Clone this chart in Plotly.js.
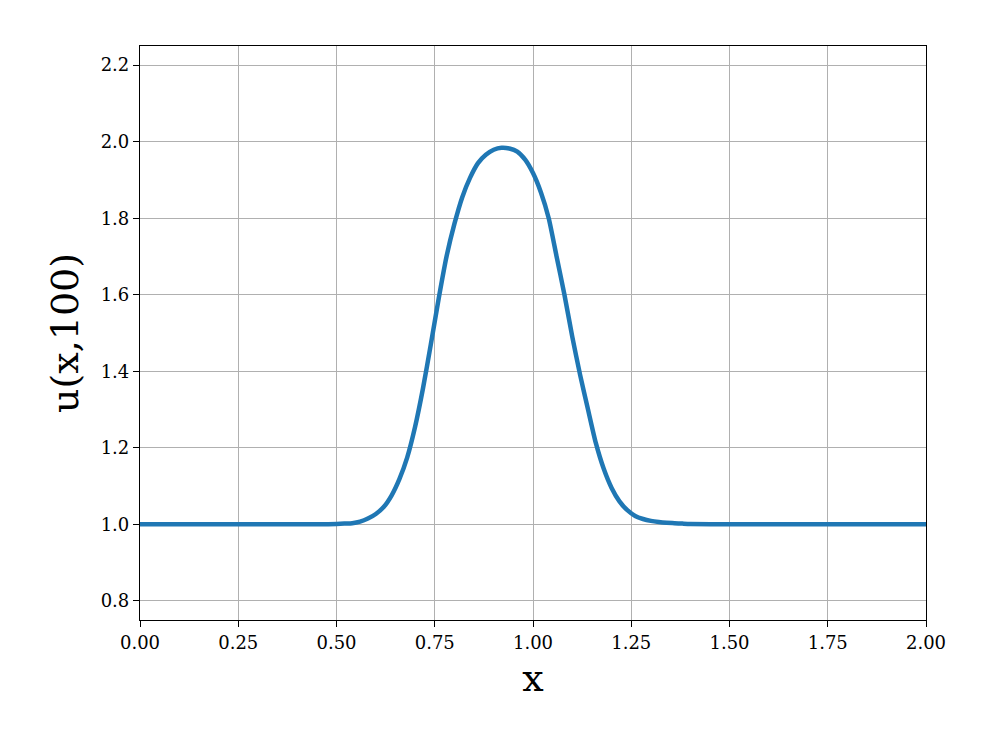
<!DOCTYPE html>
<html>
<head>
<meta charset="utf-8">
<script src="https://cdn.plot.ly/plotly-3.0.1.min.js"></script>
<style>body{margin:0;background:#fff}#chart{width:996px;height:747px}</style>
</head>
<body>
<div id="chart"></div>
<script>
// values
const xs = [0, 0.1, 0.2, 0.3, 0.4, 0.46, 0.50, 0.52, 0.54, 0.56, 0.58, 0.60, 0.62, 0.64, 0.66, 0.68,
  0.70, 0.72, 0.74, 0.76, 0.78, 0.80, 0.82, 0.84, 0.86, 0.88, 0.90, 0.92, 0.94, 0.96, 0.98,
  1.00, 1.02, 1.04, 1.06, 1.08, 1.10, 1.12, 1.14, 1.16, 1.18, 1.20, 1.22, 1.24, 1.26, 1.28,
  1.30, 1.32, 1.34, 1.36, 1.38, 1.40, 1.5, 1.6, 1.7, 1.8, 1.9, 2.0];
const u100 = [1.0, 1.0, 1.0, 1.0, 1.0, 1.0, 1.001, 1.002, 1.003, 1.007, 1.015, 1.027, 1.045, 1.075, 1.118, 1.175,
  1.255, 1.355, 1.47, 1.59, 1.70, 1.785, 1.855, 1.906, 1.944, 1.966, 1.979, 1.984, 1.982, 1.974, 1.953,
  1.918, 1.868, 1.80, 1.70, 1.60, 1.49, 1.39, 1.30, 1.212, 1.145, 1.095, 1.060, 1.037, 1.022, 1.014,
  1.009, 1.006, 1.004, 1.003, 1.002, 1.001, 1.0, 1.0, 1.0, 1.0, 1.0, 1.0];
const xTicks = [0, 0.25, 0.5, 0.75, 1.0, 1.25, 1.5, 1.75, 2.0];
const yTicks = [0.8, 1.0, 1.2, 1.4, 1.6, 1.8, 2.0, 2.2];

const serif = 'DejaVu Serif, serif';
const ax = {showline:true,mirror:true,linecolor:'#000',linewidth:1.2,ticks:'outside',ticklen:6,tickwidth:1.2,tickcolor:'#000',
  gridcolor:'#b0b0b0',gridwidth:1.3,zeroline:false,tickfont:{family:serif,size:18,color:'#000'}};

Plotly.newPlot('chart',[{x:xs,y:u100,type:'scatter',mode:'lines',line:{color:'#1f77b4',width:4.5,shape:'spline',smoothing:0.6}}],{
  width:996,height:747,showlegend:false,
  paper_bgcolor:'#fff',plot_bgcolor:'#fff',
  margin:{l:140,r:70,t:46,b:127},
  xaxis:{...ax,range:[0,2],tickvals:xTicks,tickformat:'.2f',
    title:{text:'x',font:{family:serif,size:38,color:'#000'},standoff:12}},
  yaxis:{...ax,range:[0.75,2.25],tickvals:yTicks,tickformat:'.1f',
    title:{text:'u(x,100)',font:{family:serif,size:38,color:'#000'},standoff:10}}
},{displayModeBar:false});
</script>
</body>
</html>
